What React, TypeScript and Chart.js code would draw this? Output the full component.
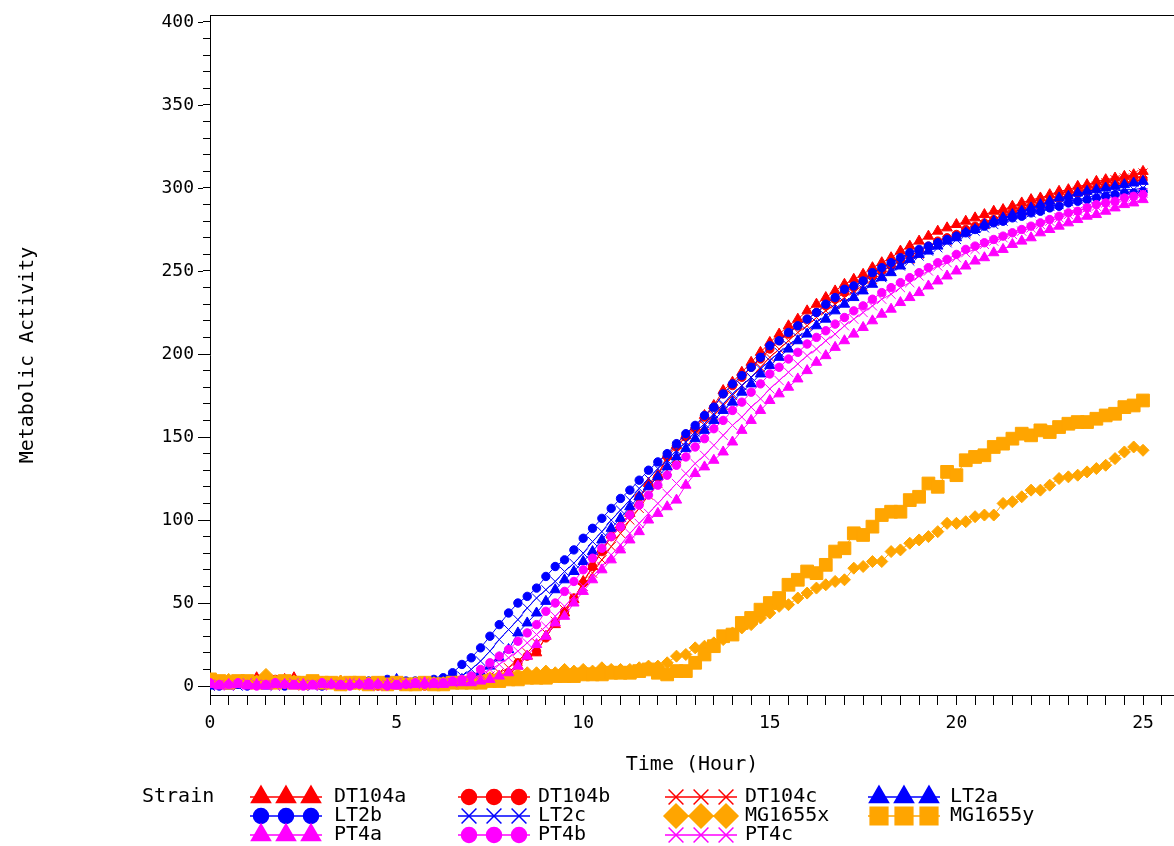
import { useEffect, useRef } from 'react';
import { Chart, registerables } from 'chart.js';
import { drawPoint } from 'chart.js/helpers';

Chart.register(...registerables);

// Sampling times (hours)
const timeHours = [
  0, 0.25, 0.5, 0.75, 1, 1.25, 1.5, 1.75, 2, 2.25, 2.5, 2.75, 3, 3.25, 3.5, 3.75,
  4, 4.25, 4.5, 4.75, 5, 5.25, 5.5, 5.75, 6, 6.25, 6.5, 6.75, 7, 7.25, 7.5, 7.75,
  8, 8.25, 8.5, 8.75, 9, 9.25, 9.5, 9.75, 10, 10.25, 10.5, 10.75, 11, 11.25, 11.5, 11.75,
  12, 12.25, 12.5, 12.75, 13, 13.25, 13.5, 13.75, 14, 14.25, 14.5, 14.75, 15, 15.25, 15.5, 15.75,
  16, 16.25, 16.5, 16.75, 17, 17.25, 17.5, 17.75, 18, 18.25, 18.5, 18.75, 19, 19.25, 19.5, 19.75,
  20, 20.25, 20.5, 20.75, 21, 21.25, 21.5, 21.75, 22, 22.25, 22.5, 22.75, 23, 23.25, 23.5, 23.75,
  24, 24.25, 24.5, 24.75, 25,
];

const DT104a = [
  1, 2, 1, 3, 2, 5, 2, 1, 4, 5, 2, 1, 2, 1, 3, 2, 1, 2, 1, 2, 0, 1, 2, 1, 1, 0, 1, 2,
  1, 2, 2, 4, 6, 12, 18, 20, 30, 37, 44, 52, 63, 72, 82, 91, 97, 104, 114, 122,
  127, 139, 145, 151, 156, 163, 169, 178, 183, 189, 195, 201, 207, 212, 217, 221,
  226, 230, 234, 238, 242, 245, 248, 252, 255, 258, 262, 265, 268, 271, 274, 276,
  278, 280, 282, 284, 286, 287, 289, 291, 293, 294, 296, 298, 299, 301, 302, 304,
  305, 306, 307, 308, 310,
];
const DT104b = [
  2, 1, 2, 1, 3, 1, 2, 4, 1, 2, 1, 3, 2, 2, 1, 1, 2, 1, 0, 1, 1, 2, 1, 0, 1, 1, 2, 1,
  2, 2, 3, 5, 8, 14, 18, 21, 29, 38, 45, 53, 62, 72, 81, 90, 96, 103, 114, 121,
  126, 138, 144, 150, 155, 162, 168, 176, 181, 186, 192, 197, 203, 208, 212, 217,
  221, 225, 229, 233, 237, 240, 244, 247, 250, 253, 256, 259, 262, 265, 268, 270,
  272, 275, 277, 279, 281, 283, 285, 287, 289, 290, 292, 294, 295, 297, 298, 300,
  301, 302, 303, 304, 305,
];
const DT104c = [
  0, 1, 1, 2, 1, 2, 1, 1, 2, 1, 0, 1, 2, 1, 1, 2, 1, 1, 2, 1, 1, 0, 1, 2, 1, 1, 2, 2,
  3, 4, 6, 8, 11, 15, 20, 26, 32, 39, 46, 53, 60, 68, 76, 84, 92, 100, 107, 115,
  122, 130, 137, 144, 150, 157, 163, 169, 175, 181, 186, 192, 198, 203, 208, 213,
  217, 222, 226, 230, 234, 238, 241, 245, 248, 251, 254, 257, 260, 263, 266, 268,
  271, 273, 276, 278, 280, 282, 284, 286, 288, 290, 292, 294, 296, 298, 299, 301,
  303, 305, 306, 308, 309,
];
const LT2a = [
  0, 1, 0, 1, 2, 1, 0, 1, 1, 2, 1, 1, 0, 1, 2, 1, 1, 0, 1, 2, 4, 1, 1, 2, 1, 2, 3, 4,
  5, 8, 12, 17, 22, 32, 38, 44, 51, 58, 64, 69, 75, 81, 88, 95, 101, 108, 114, 120,
  126, 132, 138, 143, 149, 154, 160, 166, 171, 177, 182, 188, 193, 198, 203, 208,
  212, 217, 221, 226, 230, 234, 238, 242, 246, 249, 253, 257, 260, 262, 265, 268,
  270, 273, 275, 278, 280, 282, 284, 286, 288, 290, 292, 294, 295, 297, 298, 299,
  300, 301, 302, 303, 304,
];
const LT2b = [
  1, 0, 1, 1, 0, 1, 2, 1, 0, 1, 1, 1, 0, 2, 1, 1, 2, 3, 1, 4, 2, 3, 3, 3, 4, 5, 8, 13,
  17, 23, 30, 37, 44, 50, 54, 59, 66, 72, 76, 82, 89, 95, 101, 107, 113, 118, 124, 130,
  135, 140, 146, 152, 157, 163, 168, 176, 182, 187, 192, 198, 205, 208, 213, 217,
  221, 225, 230, 234, 239, 241, 244, 249, 252, 255, 258, 261, 263, 265, 267, 269,
  271, 273, 275, 277, 279, 280, 282, 283, 285, 286, 288, 289, 291, 292, 293, 294,
  295, 296, 297, 297, 298,
];
const LT2c = [
  0, 1, 1, 0, 1, 1, 2, 0, 1, 1, 1, 0, 1, 1, 0, 1, 2, 1, 1, 2, 1, 2, 2, 1, 2, 3, 4, 6,
  10, 15, 21, 28, 34, 40, 47, 53, 58, 63, 69, 74, 80, 87, 93, 100, 106, 112, 119, 125,
  131, 136, 142, 147, 153, 158, 164, 170, 176, 181, 186, 191, 196, 201, 205, 210,
  214, 219, 223, 227, 231, 235, 239, 243, 246, 250, 253, 256, 259, 262, 264, 267,
  269, 272, 274, 276, 278, 280, 282, 284, 285, 287, 289, 290, 292, 293, 294, 296,
  297, 298, 299, 299, 300,
];
const MG1655x = [
  3, 2, 4, 3, 2, 3, 7, 3, 2, 3, 2, 3, 2, 2, 3, 2, 1, 2, 2, 1, 2, 1, 2, 1, 2, 2, 2, 3,
  3, 4, 5, 6, 7, 7, 8, 8, 9, 8, 10, 9, 10, 9, 11, 10, 10, 10, 11, 12,
  12, 14, 18, 19, 23, 24, 26, 28, 32, 35, 37, 41, 44, 48, 49, 53,
  56, 59, 61, 63, 64, 71, 72, 75, 75, 81, 82, 86, 88, 90, 93, 98,
  98, 99, 102, 103, 103, 110, 111, 114, 118, 118, 121, 125, 126, 127, 129, 131,
  133, 137, 141, 144, 142,
];
const MG1655y = [
  4, 3, 2, 3, 3, 2, 3, 2, 3, 2, 2, 3, 2, 2, 1, 2, 2, 1, 2, 1, 2, 1, 1, 2, 1, 1, 2, 2,
  2, 2, 3, 3, 4, 4, 5, 5, 5, 6, 6, 6, 7, 7, 7, 8, 8, 8, 9, 10,
  8, 7, 9, 9, 14, 19, 24, 30, 31, 38, 41, 46, 50, 53, 61, 64,
  69, 68, 73, 81, 83, 92, 91, 96, 103, 105, 105, 112, 114, 122, 120, 129,
  127, 136, 138, 139, 144, 146, 149, 152, 151, 154, 153, 156, 158, 159, 159, 161,
  163, 164, 168, 169, 172,
];
const PT4a = [
  1, 0, 1, 1, 0, 1, 0, 1, 1, 0, 1, 0, 1, 1, 0, 1, 1, 0, 1, 1, 0, 1, 1, 2, 1, 1, 2, 2,
  2, 3, 4, 6, 8, 12, 18, 25, 30, 38, 42, 50, 57, 64, 70, 76, 82, 88, 93, 100,
  104, 108, 112, 121, 128, 132, 136, 141, 147, 154, 160, 166, 172, 176, 180, 185,
  190, 195, 199, 204, 208, 212, 216, 220, 224, 227, 231, 234, 237, 241, 244, 247,
  250, 253, 256, 258, 261, 263, 266, 268, 270, 273, 275, 277, 279, 281, 283, 284,
  286, 288, 290, 291, 293,
];
const PT4b = [
  2, 1, 1, 2, 1, 0, 1, 2, 1, 1, 0, 1, 2, 1, 1, 0, 1, 2, 1, 0, 1, 1, 2, 1, 2, 2, 3, 4,
  6, 10, 14, 18, 22, 27, 32, 37, 45, 50, 57, 63, 70, 77, 83, 90, 96, 103, 109, 115,
  121, 127, 133, 138, 144, 149, 155, 160, 166, 171, 177, 182, 188, 192, 197, 201,
  206, 210, 214, 218, 222, 226, 229, 233, 237, 240, 243, 246, 249, 252, 255, 257,
  260, 263, 265, 267, 269, 271, 273, 275, 277, 279, 281, 283, 285, 286, 288, 290,
  291, 292, 294, 295, 296,
];
const PT4c = [
  1, 1, 0, 1, 2, 1, 1, 0, 1, 2, 1, 1, 0, 1, 1, 2, 1, 1, 0, 1, 2, 1, 1, 2, 1, 2, 2, 3,
  4, 7, 10, 13, 17, 21, 26, 31, 36, 42, 48, 54, 60, 66, 72, 79, 85, 92, 98, 104,
  110, 116, 122, 128, 134, 139, 145, 151, 157, 162, 168, 173, 179, 184, 189, 194,
  199, 203, 208, 212, 217, 221, 225, 229, 233, 236, 240, 243, 247, 250, 253, 255,
  258, 261, 263, 266, 268, 270, 272, 274, 276, 278, 280, 282, 284, 286, 288, 289,
  291, 292, 294, 295, 297,
];

const seriesNames = ['DT104a', 'DT104b', 'DT104c', 'LT2a', 'LT2b', 'LT2c', 'MG1655x', 'MG1655y', 'PT4a', 'PT4b', 'PT4c'];
const seriesValues = [DT104a, DT104b, DT104c, LT2a, LT2b, LT2c, MG1655x, MG1655y, PT4a, PT4b, PT4c];
const seriesColors = ['#ff0000', '#ff0000', '#ff0000', '#0000ff', '#0000ff', '#0000ff', '#ffa500', '#ffa500', '#ff00ff', '#ff00ff', '#ff00ff'];
const seriesStyles = ['triangle', 'circle', 'crossRot', 'triangle', 'circle', 'crossRot', 'rectRot', 'rect', 'triangle', 'circle', 'crossRot'];

const xTickLabels = ['0', '5', '10', '15', '20', '25'];
const yTickLabels = ['0', '50', '100', '150', '200', '250', '300', '350', '400'];
const xTitle = 'Time (Hour)';
const yTitle = 'Metabolic Activity';
const legendTitle = 'Strain';

const FONT = '"DejaVu Sans Mono", monospace';

const plotRadius: Record<string, number> = { triangle: 6, circle: 4.2, crossRot: 6.5, rectRot: 6, rect: 9 };
const legendRadius: Record<string, number> = { triangle: 11, circle: 7.5, crossRot: 10.5, rectRot: 12, rect: 12.5 };

const legendLineX = [250, 458, 665, 868];
const legendTextX = [334, 538, 745, 950];
const legendRowY = [797, 816, 835];

const sasLegend = {
  id: 'sasLegend',
  afterDraw(chart: any) {
    const ctx = chart.ctx as CanvasRenderingContext2D;
    const { left, right, top } = chart.chartArea;
    ctx.save();
    // top frame line
    ctx.strokeStyle = '#000';
    ctx.lineWidth = 1;
    ctx.beginPath();
    ctx.moveTo(left, top + 0.5);
    ctx.lineTo(right, top + 0.5);
    // longer marks for the labelled y ticks
    const yScale = chart.scales.y;
    yTickLabels.forEach((lab) => {
      const py = Math.round(yScale.getPixelForValue(Number(lab))) + 0.5;
      ctx.moveTo(left - 12, py);
      ctx.lineTo(left - 7, py);
    });
    ctx.stroke();

    ctx.font = `20px ${FONT}`;
    ctx.textBaseline = 'middle';
    ctx.textAlign = 'left';
    ctx.fillStyle = '#000';
    ctx.fillText(legendTitle, 142, legendRowY[0]);

    chart.data.datasets.forEach((ds: any, i: number) => {
      const col = i % 4;
      const row = Math.floor(i / 4);
      const x0 = legendLineX[col];
      const y = legendRowY[row];
      const color = ds.borderColor;
      ctx.strokeStyle = color;
      ctx.fillStyle = color;
      ctx.lineWidth = 1.5;
      ctx.beginPath();
      ctx.moveTo(x0, y);
      ctx.lineTo(x0 + 72, y);
      ctx.stroke();
      ctx.lineWidth = 1.5;
      [11, 36, 61].forEach((dx) => {
        drawPoint(ctx, { pointStyle: ds.pointStyle, rotation: 0, radius: legendRadius[ds.pointStyle], borderWidth: 1.5 }, x0 + dx, y);
      });
      ctx.fillStyle = '#000';
      ctx.fillText(ds.label, legendTextX[col], y);
    });
    ctx.restore();
  },
};

export default function App() {
  const ref = useRef<HTMLCanvasElement>(null);
  useEffect(() => {
    document.body.style.margin = '0';
    const datasets = seriesNames.map((name, i) => ({
      label: name,
      data: timeHours.map((t, k) => ({ x: t, y: seriesValues[i][k] })),
      borderColor: seriesColors[i],
      backgroundColor: seriesColors[i],
      pointBackgroundColor: seriesColors[i],
      pointBorderColor: seriesColors[i],
      borderWidth: 1,
      pointBorderWidth: 1,
      pointStyle: seriesStyles[i],
      pointRadius: plotRadius[seriesStyles[i]],
      tension: 0,
      order: seriesNames.length - i,
    }));
    const chart = new Chart(ref.current as HTMLCanvasElement, {
      type: 'line',
      data: { datasets },
      plugins: [sasLegend],
      options: {
        responsive: false,
        animation: false,
        events: [],
        layout: { autoPadding: false, padding: { left: 0, top: 15, right: 0, bottom: 71 } },
        plugins: { legend: { display: false }, tooltip: { enabled: false } },
        scales: {
          x: {
            type: 'linear',
            min: 0,
            max: 25.83,
            afterBuildTicks: (s: any) => {
              const t = [];
              for (let v = 0; v <= 25.5; v += 0.5) t.push({ value: v });
              s.ticks = t;
            },
            afterFit: (s: any) => { s.height = 80; s.paddingLeft = 0; s.paddingRight = 0; },
            grid: { drawOnChartArea: false, drawTicks: true, tickLength: 10, color: '#000', tickColor: '#000', tickWidth: 1 },
            border: { display: true, color: '#000', width: 1 },
            ticks: {
              autoSkip: false,
              maxRotation: 0,
              minRotation: 0,
              padding: 8,
              color: '#000',
              font: { family: FONT, size: 18 },
              callback: (v: any) => (xTickLabels.includes(String(v)) ? String(v) : ''),
            },
            title: { display: true, text: xTitle, color: '#000', font: { family: FONT, size: 20, lineHeight: 1 }, padding: 0 },
          },
          y: {
            type: 'linear',
            min: -5.4,
            max: 404.2,
            afterBuildTicks: (s: any) => {
              const t = [];
              for (let v = 0; v <= 400; v += 10) t.push({ value: v });
              s.ticks = t;
            },
            afterFit: (s: any) => { s.width = 210; s.paddingTop = 0; s.paddingBottom = 0; },
            grid: { drawOnChartArea: false, drawTicks: true, tickLength: 7, color: '#000', tickColor: '#000', tickWidth: 1 },
            border: { display: true, color: '#000', width: 1 },
            ticks: {
              autoSkip: false,
              padding: 9,
              color: '#000',
              font: { family: FONT, size: 18 },
              callback: (v: any) => (yTickLabels.includes(String(v)) ? String(v) : ''),
            },
            title: { display: true, text: yTitle, color: '#000', font: { family: FONT, size: 20, lineHeight: 1 }, padding: { top: 18, bottom: 0 } },
          },
        },
      },
    } as any);
    return () => chart.destroy();
  }, []);
  return (
    <div style={{ width: 1174, height: 846 }}>
      <canvas ref={ref} width={1174} height={846} style={{ display: 'block', width: 1174, height: 846 }} />
    </div>
  );
}
